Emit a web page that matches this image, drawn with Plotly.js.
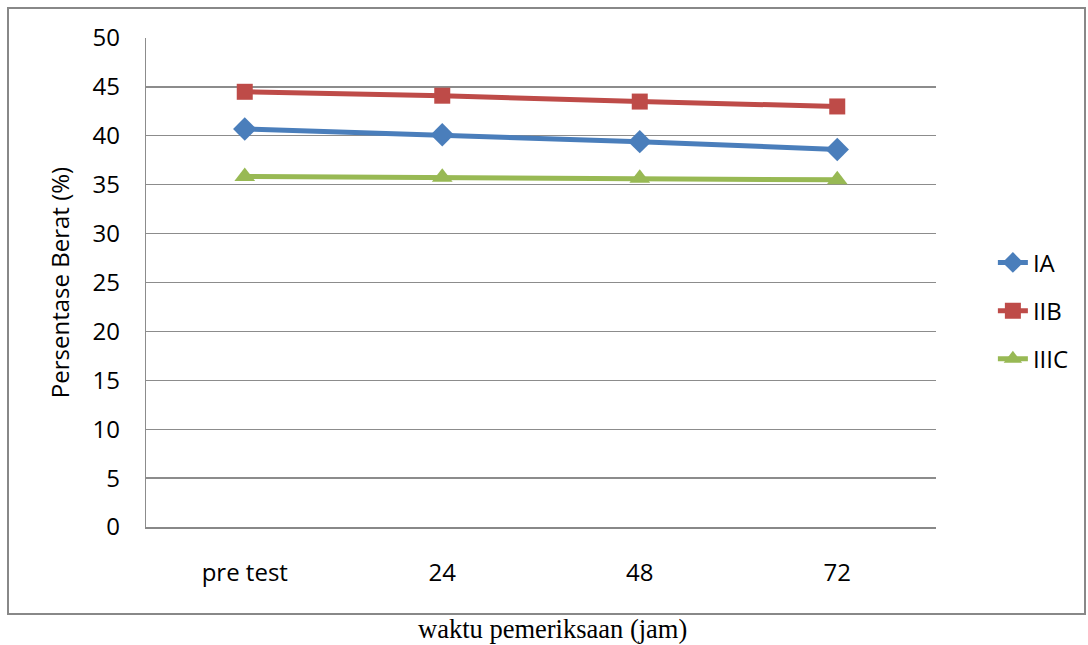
<!DOCTYPE html>
<html>
<head>
<meta charset="utf-8">
<script src="https://cdn.plot.ly/plotly-3.0.1.min.js"></script>
<style>html,body{margin:0;padding:0;background:#fff;}#chart{width:1088px;height:645px;}</style>
</head>
<body>
<div id="chart"></div>
<script>
const categories = ["pre test", "24", "48", "72"];
const seriesNames = ["IA", "IIB", "IIIC"];
const valuesIA = [40.7, 40.1, 39.4, 38.6];
const valuesIIB = [44.5, 44.1, 43.5, 43.0];
const valuesIIIC = [35.85, 35.75, 35.65, 35.5];
const yTicks = [0, 5, 10, 15, 20, 25, 30, 35, 40, 45, 50];

const colors = ["#4a7ebb", "#be4b48", "#98b954"];
const symbols = ["diamond", "square", "triangle-up"];
const sizes = [18, 16, 18];
const allValues = [valuesIA, valuesIIB, valuesIIIC];

const font = "'Open Sans', Lato, sans-serif";
const fs = 24;

const traces = allValues.map((vals, i) => ({
  x: categories,
  y: vals,
  name: seriesNames[i],
  type: "scatter",
  mode: "lines+markers",
  legendgroup: "g" + i,
  line: {color: colors[i], width: 5},
  marker: {symbol: symbols[i], size: sizes[i], color: colors[i]}
}));

const layout = {
  width: 1088, height: 645,
  margin: {l: 146, r: 152, t: 38, b: 118},
  paper_bgcolor: "#fff",
  plot_bgcolor: "#fff",
  font: {family: font, size: fs, color: "#000"},
  showlegend: true,
  legend: {
    x: 1.072, xanchor: "left", y: 0.442, yanchor: "middle",
    traceorder: "grouped", tracegroupgap: 14,
    font: {family: font, size: fs, color: "#000"},
    bgcolor: "rgba(0,0,0,0)"
  },
  xaxis: {
    type: "category",
    range: [-0.5, 3.5],
    showgrid: false,
    showline: true, linecolor: "#888", linewidth: 1.5,
    ticks: "", ticklabelstandoff: 24,
    zeroline: false,
    fixedrange: true,
    tickfont: {family: font, size: fs, color: "#000"}
  },
  yaxis: {
    range: [0, 50],
    tickvals: yTicks,
    ticktext: yTicks.map(String),
    showgrid: true, gridcolor: "#8c8c8c", gridwidth: 1.3,
    showline: true, linecolor: "#8c8c8c", linewidth: 1.3,
    zeroline: false,
    ticks: "", ticklabelstandoff: 20,
    tickfont: {family: font, size: fs, color: "#000"},
    title: {text: "Persentase Berat (%)", font: {family: font, size: fs, color: "#000"}, standoff: 16}
  },
  shapes: [{
    type: "rect", xref: "paper", yref: "paper",
    x0: (8 - 146) / 790, x1: (1085 - 146) / 790,
    y0: (527 - 614) / 489, y1: 1 + (38 - 8) / 489,
    line: {color: "#888", width: 2}, fillcolor: "rgba(0,0,0,0)", layer: "below"
  }],
  annotations: [{
    text: "waktu pemeriksaan (jam)",
    xref: "paper", yref: "paper",
    x: (552 - 146) / 790, y: (527 - 629) / 489,
    xanchor: "center", yanchor: "middle",
    showarrow: false,
    font: {family: "'Liberation Serif', 'Times New Roman', serif", size: 26.5, color: "#000"}
  }]
};

Plotly.newPlot("chart", traces, layout, {displayModeBar: false, staticPlot: true});
</script>
</body>
</html>
